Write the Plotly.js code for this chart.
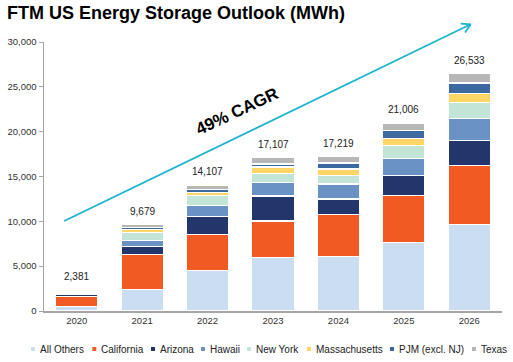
<!DOCTYPE html>
<html>
<head>
<meta charset="utf-8">
<script src="https://cdn.plot.ly/plotly-3.0.1.min.js"></script>
<style>html,body{margin:0;padding:0;background:#fff;}#chart{width:513px;height:362px;}</style>
</head>
<body>
<div id="chart"></div>
<script>
const years = ['2020','2021','2022','2023','2024','2025','2026'];
const totalLabels = [2381, 9679, 14107, 17107, 17219, 21006, 26533];
const seriesNames = ['All Others','California','Arizona','Hawaii','New York','Massachusetts','PJM (excl. NJ)','Texas'];
const allOthers     = [500, 2420, 4550, 5930, 6040, 7680, 9690];
const california    = [1150, 3920, 4020, 4100, 4730, 5220, 6520];
const arizona       = [170, 890, 2010, 2790, 1720, 2190, 2840];
const hawaii        = [60, 600, 1160, 1530, 1670, 1940, 2460];
const newYork       = [30, 890, 1120, 1010, 930, 1460, 1750];
const massachusetts = [20, 370, 370, 700, 750, 780, 1040];
const pjm           = [30, 190, 340, 340, 670, 820, 1120];
const texas         = [0, 340, 480, 710, 710, 860, 1120];
const seriesValues = [allOthers, california, arizona, hawaii, newYork, massachusetts, pjm, texas];
const colors = ['#CADDF1','#F15A22','#22366B','#6A92C5','#C3E5D8','#FFD565','#3C6AA0','#B7B7B7'];

const FONT = 'Arial, "Liberation Sans", sans-serif';
const W = 513, H = 362, ML = 44, MR = 11, MT = 42, MB = 51;
const PW = W - ML - MR, PH = H - MT - MB;
const px = x => (x - ML) / PW;
const py = y => (H - MB - y) / PH;

const traces = seriesNames.map((n, i) => ({
  type: 'bar', name: n, x: years, y: seriesValues[i],
  marker: {color: colors[i], line: {color: '#ffffff', width: 1.2}}
}));

const annotations = [];
years.forEach((yr, i) => {
  annotations.push({
    x: i, y: totalLabels[i], xref: 'x', yref: 'y',
    text: totalLabels[i].toLocaleString('en-US'),
    showarrow: false, yanchor: 'middle', yshift: 13,
    font: {family: FONT, size: 10, color: '#222222'}
  });
});
// CAGR arrow line
const tipX = 470.7, tipY = 24.3;
annotations.push({
  xref: 'paper', yref: 'paper', x: px(tipX), y: py(tipY),
  axref: 'pixel', ayref: 'pixel', ax: -408, ay: 197.4,
  text: '', showarrow: true, arrowhead: 0, arrowwidth: 1.8,
  arrowcolor: '#1CB3CF', standoff: 0
});
annotations.push({
  xref: 'paper', yref: 'paper', x: px(237), y: py(112),
  text: '<b>49% CAGR</b>', showarrow: false, textangle: -25,
  xanchor: 'center', yanchor: 'middle',
  font: {family: FONT, size: 17, color: '#000000'}
});
const shapes = [];
// open arrowhead
[[-10, -0.7], [-5.6, 8.3]].forEach(d => {
  shapes.push({
    type: 'line', xref: 'paper', yref: 'paper',
    x0: px(tipX), y0: py(tipY), x1: px(tipX + d[0]), y1: py(tipY + d[1]),
    line: {color: '#1CB3CF', width: 1.8}
  });
});
// legend
const legX = [33, 94.3, 153, 203, 249, 309, 392, 474];
const legY = 349;
seriesNames.forEach((n, i) => {
  shapes.push({
    type: 'rect', xref: 'paper', yref: 'paper',
    x0: px(legX[i] - 2), x1: px(legX[i] + 2), y0: py(legY + 2), y1: py(legY - 2),
    fillcolor: colors[i], line: {width: 0}
  });
  annotations.push({
    xref: 'paper', yref: 'paper', x: px(legX[i] + 5), y: py(legY),
    text: n, showarrow: false, xanchor: 'left', yanchor: 'middle',
    font: {family: FONT, size: 10, color: '#222222'}
  });
});

const layout = {
  width: W, height: H,
  margin: {l: ML, r: MR, t: MT, b: MB, pad: 0},
  paper_bgcolor: '#ffffff', plot_bgcolor: '#ffffff',
  barmode: 'stack', bargap: 0.353, showlegend: false,
  title: {
    text: '<b>FTM US Energy Storage Outlook (MWh)</b>',
    xref: 'container', yref: 'container', x: 7 / W, xanchor: 'left',
    y: 1 - 13 / H, yanchor: 'middle',
    font: {family: FONT, size: 18, color: '#000000'}
  },
  xaxis: {
    type: 'category', showgrid: false, zeroline: false,
    showline: true, linecolor: '#A6A6A6', linewidth: 1.5, ticks: '',
    tickfont: {family: FONT, size: 9.5, color: '#333333'}
  },
  yaxis: {
    range: [0, 30000], dtick: 5000, tickformat: ',d', showgrid: false, zeroline: false,
    showline: true, linecolor: '#A6A6A6', linewidth: 1.5,
    ticks: 'outside', ticklen: 4, tickcolor: '#A6A6A6', tickwidth: 1,
    tickfont: {family: FONT, size: 9.5, color: '#333333'}
  },
  annotations: annotations, shapes: shapes
};

Plotly.newPlot('chart', traces, layout, {staticPlot: true, displayModeBar: false});
</script>
</body>
</html>
